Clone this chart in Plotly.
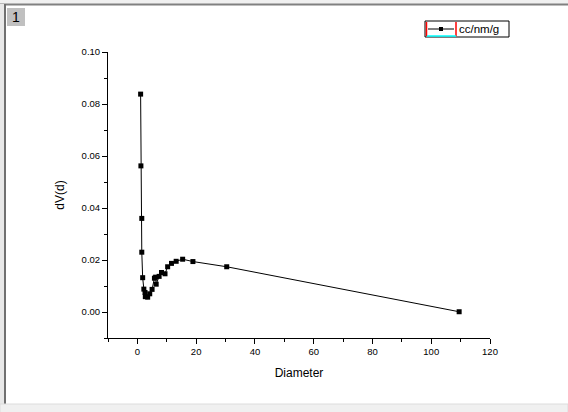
import plotly.graph_objects as go

# pore size distribution
diameter = [1.1, 1.2, 1.5, 1.5, 1.8, 2.2, 2.6, 2.7, 3.5, 4.2, 5.0, 5.8, 6.2, 6.4,
            7.4, 8.2, 9.4, 10.3, 11.6, 13.2, 15.4, 18.9, 30.4, 109.5]
dv = [0.0838, 0.0562, 0.0360, 0.0230, 0.0132, 0.0088, 0.0075, 0.0059, 0.0057, 0.0070,
      0.0087, 0.0130, 0.0134, 0.0107, 0.0137, 0.0152, 0.0147, 0.0174, 0.0187, 0.0195,
      0.0203, 0.0194, 0.0174, 0.0001]
series_name = "cc/nm/g"

W, H = 568, 412
L, R, T, B = 108, 78, 52, 74
pw, ph = W - L - R, H - T - B

def px(x):
    return (x - L) / pw

def py(y):
    return (H - B - y) / ph

fig = go.Figure()
fig.add_trace(go.Scatter(x=diameter, y=dv, mode="lines+markers", name=series_name,
                         line=dict(color="black", width=1),
                         marker=dict(symbol="square", size=5, color="black")))

font = dict(family="Liberation Sans, Arial", color="black")
axis = dict(showgrid=False, zeroline=False, showline=True, linecolor="black", linewidth=1,
            ticks="outside", ticklen=5, tickcolor="black", tickwidth=1,
            tickfont=dict(size=9.5, **font))
fig.update_xaxes(range=[-10, 120], dtick=20, tick0=0,
                 minor=dict(dtick=10, ticks="outside", ticklen=3, tickcolor="black"),
                 title=dict(text="Diameter", font=dict(size=12, **font), standoff=12), **axis)
fig.update_yaxes(range=[-0.01, 0.10], dtick=0.02, tick0=0, tickformat=".2f",
                 minor=dict(dtick=0.01, ticks="outside", ticklen=3, tickcolor="black"),
                 title=dict(text="dV(d)", font=dict(size=12, **font), standoff=14), **axis)

def rect(x0, y0, x1, y1, **kw):
    return dict(type="rect", xref="paper", yref="paper", x0=px(x0), x1=px(x1),
                y0=py(y0), y1=py(y1), layer="above", **kw)

def line(x0, y0, x1, y1, color, width=1):
    return dict(type="line", xref="paper", yref="paper", x0=px(x0), x1=px(x1),
                y0=py(y0), y1=py(y1), line=dict(color=color, width=width))

shapes = [
    # window chrome
    rect(0, 0, W, 4, fillcolor="#f0f0f0", line_width=0),
    line(0, 4.5, W, 4.5, "#808080", 2),
    rect(0, 4, 4, 404, fillcolor="#e8e8e8", line_width=0),
    line(5, 4, 5, 404, "#707070", 2),
    rect(0, 404, W, H + 2, fillcolor="#f0f0f0", line=dict(color="#dcdcdc", width=1)),
    rect(7, 8, 25, 26, fillcolor="#c0c0c0", line_width=0),
    # legend decorations
    rect(425, 21, 509, 37, line=dict(color="black", width=1)),
    line(426.5, 22, 426.5, 36, "red", 1.5),
    line(456, 22, 456, 36, "red", 1.5),
    line(427, 36, 456, 36, "cyan", 1.5),
    line(428, 29, 454, 29, "black", 1),
    rect(439, 27, 443, 31, fillcolor="black", line_width=0),
]
fig.update_layout(shapes=shapes)

fig.add_annotation(x=px(16), y=py(17), xref="paper", yref="paper", text="1", showarrow=False,
                   xanchor="center", yanchor="middle", font=dict(size=14, **font))
fig.add_annotation(x=px(457), y=py(29), xref="paper", yref="paper", text=series_name,
                   showarrow=False, xanchor="left", yanchor="middle", font=dict(size=11.5, **font))

fig.update_layout(width=W, height=H, margin=dict(l=L, r=R, t=T, b=B),
                  plot_bgcolor="white", paper_bgcolor="white", showlegend=False)
fig.write_html("out.html", config={"displayModeBar": False},
               post_script="document.body.style.margin='0';")
